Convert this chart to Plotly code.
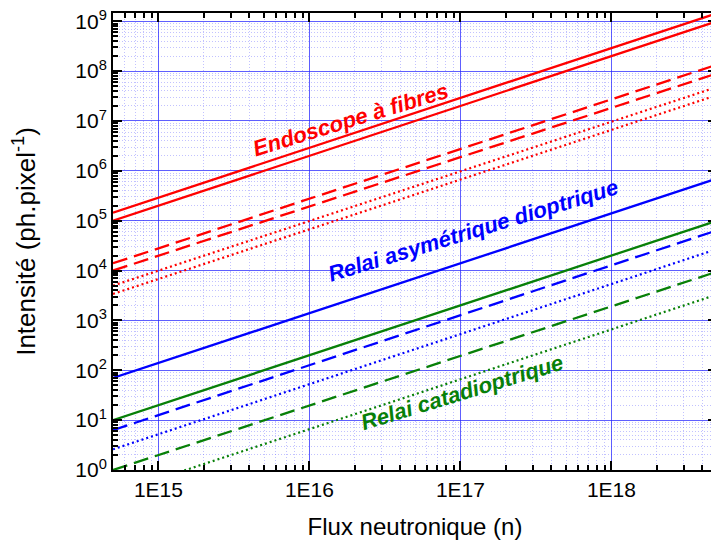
import plotly.graph_objects as go

# Data: intensity at both ends of the flux range
flux = [5e14, 5e18]

endo_solid_hi = [1.45e5, 1.45e9]
endo_solid_lo = [1.0e5, 1.0e9]
endo_dash_hi = [1.4e4, 1.35e8]
endo_dash_lo = [1.0e4, 9.0e7]
endo_dot_hi = [5.0e3, 4.8e7]
endo_dot_lo = [3.4e3, 3.3e7]

dio_solid = [70, 7.0e5]
dio_dash = [6.3, 6.4e4]
dio_dot = [2.6, 2.7e4]

cata_solid = [10, 1.0e5]
cata_dash = [1.0, 9.5e3]
cata_dot = [0.33, 3.3e3]

x_tickvals = [1e15, 1e16, 1e17, 1e18]
x_ticktext = ["1E15", "1E16", "1E17", "1E18"]
y_exponents = list(range(0, 10))

RED = "#ff0000"
BLUE = "#0000ff"
GREEN = "#088008"
DASH = "15px,7px"
DOT = "2px,3px"

series = [
    (endo_solid_hi, RED, "solid", 2.3),
    (endo_solid_lo, RED, "solid", 2.3),
    (endo_dash_hi, RED, DASH, 2.3),
    (endo_dash_lo, RED, DASH, 2.3),
    (endo_dot_hi, RED, DOT, 2.2),
    (endo_dot_lo, RED, DOT, 2.2),
    (dio_solid, BLUE, "solid", 2.3),
    (dio_dash, BLUE, DASH, 2.3),
    (dio_dot, BLUE, DOT, 2.2),
    (cata_solid, GREEN, "solid", 2.3),
    (cata_dash, GREEN, DASH, 2.3),
    (cata_dot, GREEN, DOT, 2.2),
]

fig = go.Figure()
for ys, col, dash, w in series:
    fig.add_trace(go.Scatter(x=flux, y=ys, mode="lines",
                             line=dict(color=col, dash=dash, width=w),
                             showlegend=False, hoverinfo="skip"))

FONT = "Liberation Sans, Arial, sans-serif"
labels = [
    ("Endoscope à fibres", RED, 16.274, 7.04),
    ("Relai asymétrique dioptrique", BLUE, 17.083, 4.81),
    ("Relai catadioptrique", GREEN, 17.01, 1.55),
]
for txt, col, lx, ly in labels:
    fig.add_annotation(x=lx, y=ly, xref="x", yref="y",
                       text="<b><i>" + txt + "</i></b>", showarrow=False,
                       textangle=-17,
                       font=dict(family=FONT, size=22, color=col))

# minor tick positions (2..9 within every decade)
x_minor = [m * 10.0 ** d for d in range(14, 19) for m in range(2, 10)]
y_minor = [m * 10.0 ** d for d in range(-1, 10) for m in range(2, 10)]

def axis_style(minor_vals):
    return dict(
        type="log",
        showline=True, linecolor="black", linewidth=2, mirror="allticks",
        ticks="inside", ticklen=9, tickwidth=2, tickcolor="black",
        showgrid=True, gridcolor="rgba(40,40,255,0.75)", gridwidth=1,
        zeroline=False, ticklabeloverflow="allow",
        tickfont=dict(family=FONT, size=21, color="black"),
        minor=dict(tickmode="array", tickvals=minor_vals,
                   ticks="inside", ticklen=5, tickwidth=1.5, tickcolor="black",
                   showgrid=True, gridcolor="rgba(110,110,255,0.42)",
                   griddash="1px,2px", gridwidth=1),
    )

fig.update_xaxes(**axis_style(x_minor),
                 range=[14.699, 18.699],
                 tickmode="array", tickvals=x_tickvals, ticktext=x_ticktext,
                 title=dict(text="Flux neutronique (n)",
                            font=dict(family=FONT, size=24, color="black"),
                            standoff=18))
fig.update_yaxes(**axis_style(y_minor),
                 range=[0, 9.166],
                 tickmode="array",
                 tickvals=[10.0 ** k for k in y_exponents],
                 ticktext=["10<sup>%d</sup>" % k for k in y_exponents],
                 title=dict(text="Intensité (ph.pixel<sup>-1</sup>)",
                            font=dict(family=FONT, size=26, color="black"),
                            standoff=38))

# page body adds an 8px offset; the figure is sized to compensate
fig.update_layout(
    width=711, height=542,
    margin=dict(l=105, r=2, t=5, b=80, autoexpand=False),
    paper_bgcolor="white", plot_bgcolor="white",
    font=dict(family=FONT),
)

fig.write_html("out.html")
